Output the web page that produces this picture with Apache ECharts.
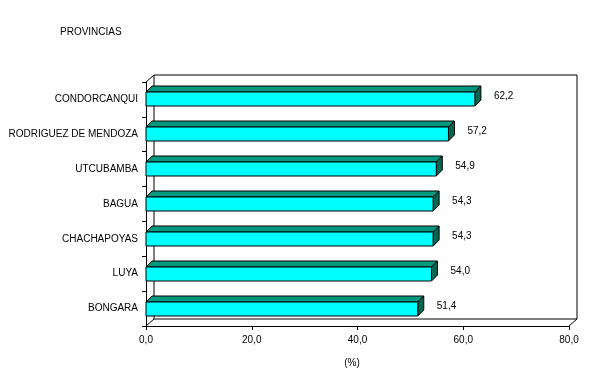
<!DOCTYPE html>
<html>
<head>
<meta charset="utf-8">
<script src="https://cdn.jsdelivr.net/npm/echarts@6/dist/echarts.min.js"></script>
<style>html,body{margin:0;padding:0;background:#fff;}#c{width:596px;height:381px;}</style>
</head>
<body>
<div id="c"></div>
<script>
const categories = ['CONDORCANQUI','RODRIGUEZ DE MENDOZA','UTCUBAMBA','BAGUA','CHACHAPOYAS','LUYA','BONGARA'];
const values = [62.2, 57.2, 54.9, 54.3, 54.3, 54.0, 51.4];
const xTicks = [0, 20, 40, 60, 80];

const FONT = '"Liberation Sans", Arial, sans-serif';
const DX = 8, DY = 7;     // wall depth
const BD = 6;            // bar depth

const chart = echarts.init(document.getElementById('c'), null, {renderer: 'canvas'});
const fmt = v => v.toFixed(1).replace('.', ',');

chart.setOption({
  animation: false,
  backgroundColor: '#fff',
  grid: {left: 146, right: 27, top: 82, bottom: 55, containLabel: false},
  graphic: [
    {type: 'text', left: 60, top: 27, style: {text: 'PROVINCIAS', font: '10px ' + FONT, fill: '#000'}},
    {type: 'text', x: 352, y: 363, style: {text: '(%)', font: '10px ' + FONT, fill: '#000', align: 'center', verticalAlign: 'middle'}}
  ],
  xAxis: {
    type: 'value', min: xTicks[0], max: xTicks[xTicks.length - 1], interval: 20,
    splitLine: {show: false},
    axisLine: {show: true, lineStyle: {color: '#000', width: 1}},
    axisTick: {show: true, length: 4, lineStyle: {color: '#000'}},
    axisLabel: {formatter: v => fmt(v), color: '#000', fontSize: 10, fontFamily: FONT, margin: 9}
  },
  yAxis: {
    type: 'category', data: categories, inverse: true,
    axisLine: {show: true, lineStyle: {color: '#000', width: 1}},
    axisTick: {show: true, length: 4, lineStyle: {color: '#000'}},
    axisLabel: {color: '#000', fontSize: 10, fontFamily: FONT, margin: 8}
  },
  series: [
    {
      type: 'custom', z: 1, silent: true,
      data: [[0, 0]],
      renderItem: (params, api) => {
        const cs = params.coordSys;
        const x = cs.x, y = cs.y, w = cs.width, h = cs.height;
        const ls = {stroke: '#000', lineWidth: 1, fill: null};
        return {type: 'group', children: [
          {type: 'rect', shape: {x: x + DX, y: y - DY, width: w, height: h}, style: {stroke: '#000', lineWidth: 1, fill: '#fff'}},
          {type: 'line', shape: {x1: x, y1: y, x2: x + DX, y2: y - DY}, style: ls},
          {type: 'line', shape: {x1: x, y1: y + h, x2: x + DX, y2: y + h - DY}, style: ls},
          {type: 'line', shape: {x1: x + w, y1: y + h, x2: x + w + DX, y2: y + h - DY}, style: ls}
        ]};
      }
    },
    {
      type: 'custom', z: 3,
      data: values.map((v, i) => [v, i]),
      encode: {x: 0, y: 1},
      renderItem: (params, api) => {
        const v = api.value(0), c = api.value(1);
        const p0 = api.coord([0, c]), p1 = api.coord([v, c]);
        const bw = 14;
        const y0 = Math.round(p0[1] - bw / 2), y1 = y0 + bw;
        const x0 = p0[0], x1 = p1[0];
        const st = {stroke: '#000', lineWidth: 1};
        return {type: 'group', children: [
          {type: 'polygon', shape: {points: [[x0, y0], [x1, y0], [x1 + BD, y0 - BD], [x0 + BD, y0 - BD]]}, style: Object.assign({fill: '#009980'}, st)},
          {type: 'polygon', shape: {points: [[x1, y0], [x1 + BD, y0 - BD], [x1 + BD, y1 - BD], [x1, y1]]}, style: Object.assign({fill: '#006650'}, st)},
          {type: 'rect', shape: {x: x0, y: y0, width: x1 - x0, height: bw}, style: Object.assign({fill: '#00ffff'}, st)},
          {type: 'text', x: x1 + BD + 13, y: (y0 - BD + y1) / 2, style: {text: fmt(v), font: '10px ' + FONT, fill: '#000', align: 'left', verticalAlign: 'middle'}}
        ]};
      }
    }
  ]
});
</script>
</body>
</html>
